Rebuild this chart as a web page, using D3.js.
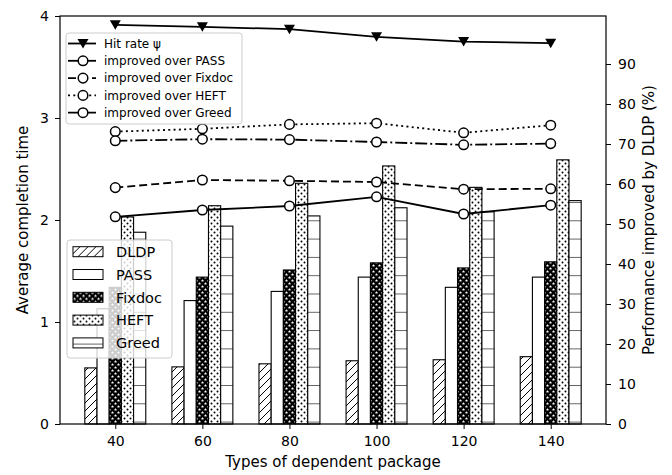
<!DOCTYPE html>
<html>
<head>
<meta charset="utf-8">
<script src="https://cdn.jsdelivr.net/npm/d3@7"></script>
<style>
  body { margin: 0; background: #fff; }
  svg { font-family: "DejaVu Sans", sans-serif; }
</style>
</head>
<body>
<svg id="chart" width="672" height="475"></svg>
<script>
// data
const packages = [40, 60, 80, 100, 120, 140];
const methods = ['DLDP', 'PASS', 'Fixdoc', 'HEFT', 'Greed'];
const dldpTime = [0.55, 0.56, 0.59, 0.62, 0.63, 0.66];
const passTime = [1.13, 1.21, 1.30, 1.44, 1.34, 1.44];
const fixdocTime = [1.34, 1.44, 1.51, 1.58, 1.53, 1.59];
const heftTime = [2.03, 2.14, 2.36, 2.53, 2.32, 2.59];
const greedTime = [1.88, 1.94, 2.04, 2.12, 2.08, 2.19];

const hitRate = [99.8, 99.3, 98.7, 96.8, 95.6, 95.2];
const overPass = [51.8, 53.5, 54.5, 56.8, 52.5, 54.7];
const overFixdoc = [59.1, 61.0, 60.8, 60.5, 58.7, 58.8];
const overHeft = [73.1, 73.8, 74.9, 75.2, 72.8, 74.7];
const overGreed = [70.8, 71.2, 71.1, 70.5, 69.8, 70.1];

const leftTicks = [0, 1, 2, 3, 4];
const rightTicks = [0, 10, 20, 30, 40, 50, 60, 70, 80, 90];

const timeSeries = [dldpTime, passTime, fixdocTime, heftTime, greedTime];
const lineSeries = [
  { name: 'Hit rate \u03c8', values: hitRate, dash: null, marker: 'tri' },
  { name: 'improved over PASS', values: overPass, dash: null, marker: 'circle' },
  { name: 'improved over Fixdoc', values: overFixdoc, dash: '8,4', marker: 'circle' },
  { name: 'improved over HEFT', values: overHeft, dash: '2,3.3', marker: 'circle' },
  { name: 'improved over Greed', values: overGreed, dash: '12,3,2,3', marker: 'circle' }
];

const svg = d3.select('#chart');
const plotL = 60, plotR = 606, plotT = 16, plotB = 424;
const barW = 2.8;

const span = (packages[packages.length - 1] - packages[0]) + 5 * barW;
const xMin = packages[0] - 2.5 * barW - span * 0.05;
const xMax = packages[packages.length - 1] + 2.5 * barW + span * 0.05;
const x = d3.scaleLinear().domain([xMin, xMax]).range([plotL, plotR]);
const yL = d3.scaleLinear().domain([0, 4]).range([plotB, plotT]);
const yR = d3.scaleLinear().domain([0, 102]).range([plotB, plotT]);

// hatch patterns
const defs = svg.append('defs');
let p = defs.append('pattern').attr('id', 'h-dldp').attr('patternUnits', 'userSpaceOnUse')
  .attr('width', 8).attr('height', 8);
p.append('rect').attr('width', 8).attr('height', 8).attr('fill', '#fff');
p.append('path').attr('d', 'M-2,2 L2,-2 M0,8 L8,0 M6,10 L10,6').attr('stroke', '#000').attr('stroke-width', 1);

p = defs.append('pattern').attr('id', 'h-pass').attr('patternUnits', 'userSpaceOnUse')
  .attr('width', 6).attr('height', 6);
p.append('rect').attr('width', 6).attr('height', 6).attr('fill', '#fff');

const star = (cx, cy, r) => {
  const pts = d3.range(10).map(i => {
    const a = -Math.PI / 2 + i * Math.PI / 5;
    const rr = i % 2 ? r * 0.45 : r;
    return [cx + rr * Math.cos(a), cy + rr * Math.sin(a)];
  });
  return 'M' + pts.join('L') + 'Z';
};
p = defs.append('pattern').attr('id', 'h-fixdoc').attr('patternUnits', 'userSpaceOnUse')
  .attr('width', 6).attr('height', 6);
p.append('rect').attr('width', 6).attr('height', 6).attr('fill', '#000');
p.append('path').attr('d', star(1.5, 1.6, 1.6) + star(4.5, 4.6, 1.6)).attr('fill', '#fff');

p = defs.append('pattern').attr('id', 'h-heft').attr('patternUnits', 'userSpaceOnUse')
  .attr('width', 6).attr('height', 6);
p.append('rect').attr('width', 6).attr('height', 6).attr('fill', '#fff');
p.append('circle').attr('cx', 1.5).attr('cy', 1.5).attr('r', 1).attr('fill', '#000');
p.append('circle').attr('cx', 4.5).attr('cy', 4.5).attr('r', 1).attr('fill', '#000');

p = defs.append('pattern').attr('id', 'h-greed').attr('patternUnits', 'userSpaceOnUse')
  .attr('y', 0.7).attr('width', 8).attr('height', 18.3);
p.append('rect').attr('width', 8).attr('height', 18.3).attr('fill', '#fff');
p.append('line').attr('x1', 0).attr('x2', 8).attr('y1', 0).attr('y2', 0)
  .attr('stroke', '#000').attr('stroke-width', 1.2);

const fills = ['url(#h-dldp)', 'url(#h-pass)', 'url(#h-fixdoc)', 'url(#h-heft)', 'url(#h-greed)'];

// bars
methods.forEach((m, j) => {
  svg.append('g').selectAll('rect')
    .data(timeSeries[j])
    .join('rect')
    .attr('x', (d, i) => x(packages[i] + (j - 2.5) * barW))
    .attr('width', x(barW) - x(0))
    .attr('y', d => yL(d))
    .attr('height', d => yL(0) - yL(d))
    .attr('fill', fills[j])
    .attr('stroke', '#000')
    .attr('stroke-width', 1.1);
});

// bar legend
const leg1 = svg.append('g').attr('transform', 'translate(67,240)');
leg1.append('rect').attr('width', 105).attr('height', 118).attr('rx', 3)
  .attr('fill', '#fff').attr('fill-opacity', 0.8).attr('stroke', '#ccc');
methods.forEach((m, j) => {
  const g = leg1.append('g').attr('transform', `translate(0,${11.7 + j * 22.8})`);
  g.append('rect').attr('x', 6).attr('y', -5).attr('width', 30).attr('height', 10)
    .attr('fill', fills[j]).attr('stroke', '#000').attr('stroke-width', 1);
  g.append('text').attr('x', 49).attr('dy', '0.36em').attr('font-size', 14.5).text(m);
});

// lines on right axis
const line = d3.line().x((d, i) => x(packages[i])).y(d => yR(d));
const drawMarker = (sel, kind) => {
  if (kind === 'tri') {
    sel.append('path').attr('d', 'M-5.5,-4.5 L5.5,-4.5 L0,5 Z').attr('fill', '#000');
  } else {
    sel.append('circle').attr('r', 4.8).attr('fill', '#fff')
      .attr('stroke', '#000').attr('stroke-width', 1.5);
  }
};
lineSeries.forEach(s => {
  svg.append('path').datum(s.values).attr('d', line)
    .attr('fill', 'none').attr('stroke', '#000').attr('stroke-width', 1.8)
    .attr('stroke-dasharray', s.dash);
  s.values.forEach((v, i) => {
    drawMarker(svg.append('g').attr('transform', `translate(${x(packages[i])},${yR(v)})`), s.marker);
  });
});

// line legend
const leg2 = svg.append('g').attr('transform', 'translate(66,33)');
leg2.append('rect').attr('width', 176).attr('height', 91).attr('rx', 3)
  .attr('fill', '#fff').attr('fill-opacity', 0.8).attr('stroke', '#ccc');
lineSeries.forEach((s, j) => {
  const g = leg2.append('g').attr('transform', `translate(0,${10.5 + j * 17.3})`);
  g.append('line').attr('x1', 2).attr('x2', 30).attr('stroke', '#000')
    .attr('stroke-width', 1.8).attr('stroke-dasharray', s.dash);
  drawMarker(g.append('g').attr('transform', 'translate(17,0)'), s.marker);
  g.append('text').attr('x', 38).attr('dy', '0.36em').attr('font-size', 12).text(s.name);
});

// frame and axes
svg.append('rect').attr('x', plotL).attr('y', plotT).attr('width', plotR - plotL).attr('height', plotB - plotT)
  .attr('fill', 'none').attr('stroke', '#000').attr('stroke-width', 1.2);

const axisStyle = g => {
  g.select('.domain').remove();
  g.selectAll('line').attr('stroke', '#000').attr('stroke-width', 1);
  g.selectAll('text').attr('font-size', 14).attr('fill', '#000')
    .attr('font-family', '"DejaVu Sans", sans-serif');
};
svg.append('g').attr('transform', `translate(0,${plotB})`)
  .call(d3.axisBottom(x).tickValues(packages).tickSize(5).tickPadding(7))
  .call(axisStyle);
svg.append('g').attr('transform', `translate(${plotL},0)`)
  .call(d3.axisLeft(yL).tickValues(leftTicks).tickFormat(d3.format('d')).tickSize(5).tickPadding(6))
  .call(axisStyle);
svg.append('g').attr('transform', `translate(${plotR},0)`)
  .call(d3.axisRight(yR).tickValues(rightTicks).tickFormat(d3.format('d')).tickSize(5).tickPadding(7))
  .call(axisStyle);

svg.append('text').attr('x', (plotL + plotR) / 2).attr('y', 467).attr('text-anchor', 'middle')
  .attr('font-size', 15).text('Types of dependent package');
svg.append('text').attr('transform', `translate(28,${(plotT + plotB) / 2}) rotate(-90)`)
  .attr('text-anchor', 'middle').attr('font-size', 15).text('Average completion time');
svg.append('text').attr('transform', `translate(654,${(plotT + plotB) / 2}) rotate(-90)`)
  .attr('text-anchor', 'middle').attr('font-size', 15).text('Performance improved by DLDP (%)');
</script>
</body>
</html>
